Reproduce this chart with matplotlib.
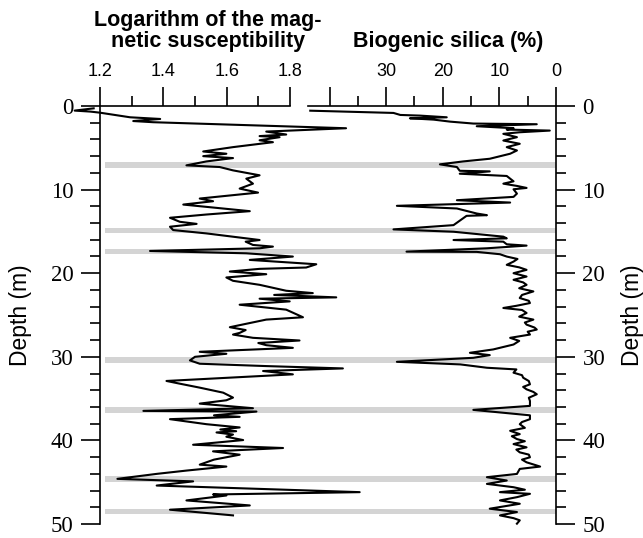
import matplotlib
matplotlib.use("Agg")
import matplotlib.pyplot as plt
from matplotlib.ticker import MultipleLocator

# Left panel: depth (m) vs log of magnetic susceptibility
mag_depth = [0.28, 0.55, 0.67, 0.8, 1.35, 1.55, 1.8, 1.94, 2.66, 3.06, 3.41, 3.6, 3.73, 4.1,
             4.33, 4.92, 5.44, 5.71, 6.0, 6.23, 6.63, 7.1, 7.3, 7.7, 8.29, 8.69, 9.29, 9.88,
             10.36, 10.75, 11.07, 11.39, 11.79, 12.06, 12.58, 12.98, 13.37, 13.85, 14.1, 14.44,
             14.84, 15.24, 15.63, 16.03, 16.23, 16.62, 16.82, 17.02, 17.34, 17.62, 18.01, 18.41,
             18.93, 19.32, 19.48, 19.8, 20.12, 20.51, 20.91, 21.39, 22.1, 22.38, 22.6, 22.89,
             23.05, 23.37, 23.77, 24.36, 25.27, 25.55, 26.46, 26.8, 27.14, 27.34, 27.73, 28.05,
             28.35, 28.61, 28.93, 29.4, 29.64, 30.0, 30.43, 30.83, 31.11, 31.39, 31.7, 32.1,
             32.89, 33.2, 33.69, 34.29, 34.88, 35.2, 35.6, 36.15, 36.47, 36.55, 37.0, 37.18,
             37.46, 38.06, 38.45, 38.7, 38.9, 39.05, 39.3, 39.56, 39.96, 40.52, 40.91, 41.31,
             41.71, 42.3, 42.9, 43.13, 43.61, 44.0, 44.6, 44.9, 45.4, 46.19, 46.47, 46.59,
             47.18, 47.78, 48.29, 48.97]
mag_log = [1.18, 1.12, 1.17, 1.20, 1.295, 1.39, 1.305, 1.368, 1.977, 1.725, 1.788, 1.704, 1.767,
           1.704, 1.746, 1.62, 1.526, 1.599, 1.526, 1.62, 1.536, 1.473, 1.578, 1.62, 1.704, 1.662,
           1.683, 1.641, 1.699, 1.599, 1.515, 1.557, 1.463, 1.536, 1.673, 1.536, 1.421, 1.452,
           1.505, 1.421, 1.431, 1.536, 1.62, 1.704, 1.66, 1.683, 1.746, 1.704, 1.358, 1.662,
           1.809, 1.673, 1.883, 1.851, 1.704, 1.61, 1.725, 1.599, 1.62, 1.704, 1.788, 1.872,
           1.75, 1.946, 1.704, 1.799, 1.641, 1.788, 1.841, 1.725, 1.61, 1.66, 1.641, 1.62, 1.683,
           1.83, 1.70, 1.725, 1.809, 1.515, 1.599, 1.50, 1.484, 1.515, 1.725, 1.967, 1.715, 1.809,
           1.41, 1.45, 1.515, 1.589, 1.62, 1.599, 1.515, 1.683, 1.337, 1.694, 1.56, 1.641, 1.421,
           1.536, 1.641, 1.58, 1.63, 1.568, 1.62, 1.599, 1.652, 1.494, 1.778, 1.557,
           1.641, 1.56, 1.515, 1.599, 1.473, 1.38, 1.255, 1.494, 1.379, 2.02, 1.557, 1.599,
           1.473, 1.673, 1.421, 1.62]

# Right panel: depth (m) vs biogenic silica (%)
bsi_depth = [0.56, 0.83, 1.07, 1.15, 1.35, 1.47, 1.63, 1.87, 2.1, 2.18, 2.42, 2.66, 2.82, 2.94,
             3.14, 3.33, 3.73, 4.13, 4.52, 4.92, 5.32, 5.71, 6.31, 6.63, 6.98, 7.3, 7.75, 7.82,
             8.1, 8.37, 9.01, 9.29, 9.56, 9.8, 9.96, 10.48, 10.87, 11.27, 11.55, 11.94, 12.26,
             12.86, 13.06, 13.14, 14.25, 14.76, 15.04, 15.63, 15.83, 16.03, 16.23, 16.54, 16.7,
             17.02, 17.42, 17.45, 17.73, 18.01, 18.3, 18.61, 19.0, 19.3, 19.6, 20.0, 20.4, 20.79,
             21.1, 21.39, 21.8, 22.18, 22.6, 22.97, 23.3, 23.57, 23.9, 24.16, 24.4, 24.76, 25.2,
             25.55, 25.9, 26.15, 26.5, 26.74, 27.0, 27.34, 27.73, 28.1, 28.53, 29.12, 29.52,
             29.8, 30.12, 30.6, 30.91, 31.31, 31.51, 31.9, 32.2, 32.5, 32.9, 33.29, 33.6, 33.89,
             34.2, 34.48, 34.9, 35.28, 35.87, 36.35, 37.0, 37.46, 37.8, 38.06, 38.5, 38.85,
             39.25, 39.5, 39.84, 40.1, 40.44, 40.83, 41.1, 41.43, 41.7, 42.02, 42.3, 42.62,
             43.13, 43.41, 44.01, 44.4, 44.8, 45.2, 45.6, 45.9, 46.19, 46.39, 46.79, 47.18,
             47.58, 48.17, 48.57, 48.97, 49.3, 49.56, 49.96]
bsi_pct = [43.4, 28.7, 27.5, 24.0, 19.3, 25.8, 21.6, 18.7, 14.6, 3.4, 14.0, 7.5, 8.7, 1.1,
           6.4, 9.3, 6.9, 9.3, 6.4, 8.7, 6.9, 8.1, 11.7, 16.4, 20.5, 17.5, 17.0, 11.7,
           17.0, 8.7, 7.5, 9.3, 6.9, 5.2, 7.5, 6.9, 7.5, 17.5, 8.1, 28.1, 17.5,
           14.0, 12.2, 15.8, 18.1, 28.7, 18.1, 9.3, 8.7, 18.1, 9.3, 8.7, 5.2,
           12.2, 26.4, 14.0, 9.9, 8.7, 6.8, 7.5, 8.7, 6.5, 5.2, 7.5, 5.2, 7.5,
           5.8, 5.2, 6.5, 4.0, 6.0, 6.4, 4.8, 4.6, 7.0, 9.3, 6.0, 5.2, 6.5,
           4.0, 5.5, 5.2, 3.8, 3.4, 5.0, 4.6, 8.1, 6.5, 7.5, 11.1, 15.2,
           11.7, 14.6, 28.1, 16.9, 12.2, 7.0, 7.5, 6.0, 5.8, 4.8, 4.6, 5.8, 5.2,
           4.0, 3.4, 4.8, 4.6, 4.6, 14.6, 4.6, 4.6, 6.0, 6.4, 5.5, 8.1,
           6.4, 7.8, 6.9, 5.5, 7.5, 5.2, 7.0, 6.4, 4.8, 4.6, 6.0, 5.2,
           2.8, 6.4, 6.9, 12.2, 8.7, 12.2, 7.5, 5.5, 9.9, 4.6, 6.9, 9.9,
           6.4, 11.7, 6.9, 9.9, 7.5, 6.4, 6.9]

# grey marker bands (depth, m)
band_depth = [7.1, 14.9, 17.4, 30.4, 36.4, 44.6, 48.5]

depth_ticks = [0, 10, 20, 30, 40, 50]
mag_ticks = [1.2, 1.4, 1.6, 1.8]
bsi_ticks = [40, 30, 20, 10, 0]
bsi_labels = ["", "30", "20", "10", "0"]

plt.rcParams["font.family"] = "Liberation Sans"
W, H = 643, 538
fig = plt.figure(figsize=(W / 100, H / 100), dpi=100)


def rect(x0, x1, y0=106, y1=524):
    # pixel box -> figure fraction
    return [x0 / W, 1 - y1 / H, (x1 - x0) / W, (y1 - y0) / H]


# background axes only for the grey bands
bg = fig.add_axes(rect(105, 556))
bg.set_xlim(0, 1)
bg.set_ylim(50, 0)
bg.axis("off")
for d in band_depth:
    bg.axhspan(d - 0.35, d + 0.35, color="#d4d4d4", lw=0)

ax1 = fig.add_axes(rect(100, 290))
ax2 = fig.add_axes(rect(308, 556))

for ax in (ax1, ax2):
    ax.patch.set_alpha(0)
    ax.set_ylim(50, 0)
    ax.spines["bottom"].set_visible(False)
    for s in ax.spines.values():
        s.set_linewidth(1.2)
    ax.xaxis.tick_top()
    ax.set_yticks(depth_ticks)
    ax.set_yticklabels([str(t) for t in depth_ticks], fontfamily="Liberation Serif", fontsize=16.5)
    ax.yaxis.set_minor_locator(MultipleLocator(2))
    ax.tick_params(which="major", length=14, width=1.2)
    ax.tick_params(which="minor", length=7, width=1.2)
    ax.tick_params(axis="x", labelsize=13, pad=5)
    ax.tick_params(axis="y", pad=5)

ax1.spines["right"].set_visible(False)
ax1.set_xlim(1.2, 1.8)
ax1.set_xticks(mag_ticks)
ax1.set_xticklabels([f"{t:.1f}" for t in mag_ticks])
ax1.xaxis.set_minor_locator(MultipleLocator(0.1))
ax1.plot(mag_log, mag_depth, color="black", lw=1.5, clip_on=False)

ax2.spines["left"].set_visible(False)
ax2.yaxis.tick_right()
ax2.set_xlim(43.8, 0)
ax2.set_xticks(bsi_ticks)
ax2.set_xticklabels(bsi_labels)
ax2.xaxis.set_minor_locator(MultipleLocator(5))
ax2.plot(bsi_pct, bsi_depth, color="black", lw=1.5, clip_on=False)

fig.text(208 / W, 1 - 31 / H, "Logarithm of the mag-\nnetic susceptibility",
         ha="center", va="center", fontsize=15.5, fontweight="bold", linespacing=1.0)
fig.text(448 / W, 1 - 42 / H, "Biogenic silica (%)", ha="center", va="center",
         fontsize=15.5, fontweight="bold")
fig.text(21 / W, 1 - 315 / H, "Depth (m)", rotation=90, ha="center", va="center", fontsize=16.5)
fig.text(632 / W, 1 - 315 / H, "Depth (m)", rotation=90, ha="center", va="center", fontsize=16.5)

fig.savefig("out.png", dpi=100)
